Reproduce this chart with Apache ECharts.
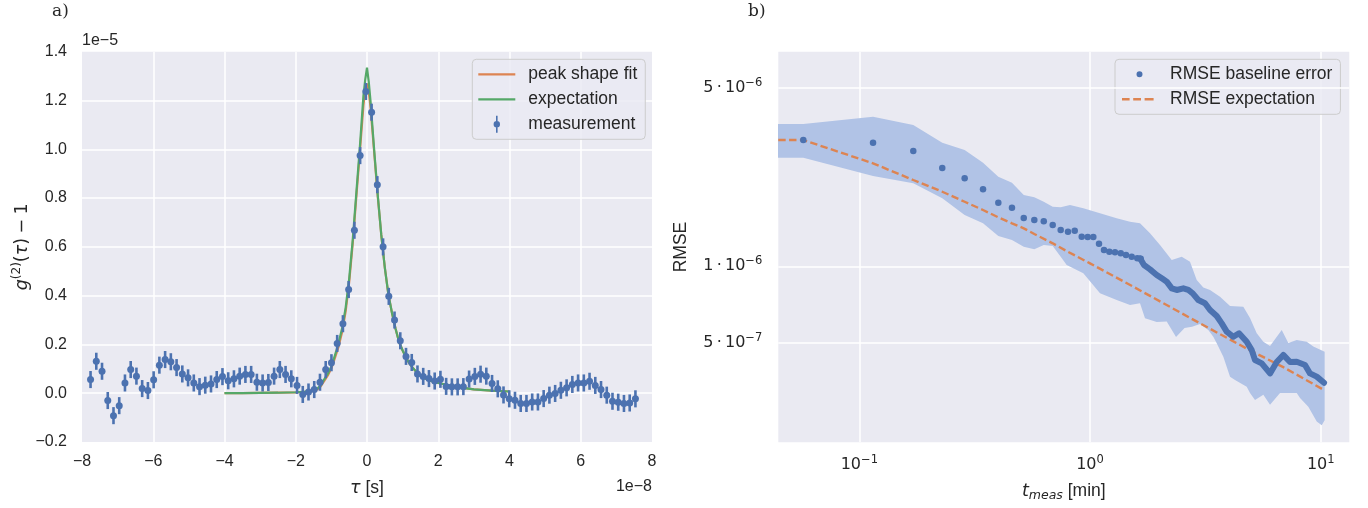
<!DOCTYPE html>
<html><head><meta charset="utf-8">
<script src="https://cdn.jsdelivr.net/npm/echarts@6/dist/echarts.min.js"></script>
<style>html,body{margin:0;padding:0;background:#fff;}#c{width:1368px;height:508px;}</style>
</head><body><div id="c"></div>
<script>
// ---------- Panel a) : tau in units of 1e-8 s, g2-1 in units of 1e-5 ----------
const tauMeas = [-7.760,-7.599,-7.438,-7.277,-7.116,-6.955,-6.794,-6.633,-6.472,-6.311,-6.150,-5.989,-5.828,-5.667,-5.506,-5.345,-5.184,-5.023,-4.862,-4.701,-4.540,-4.379,-4.218,-4.057,-3.896,-3.735,-3.574,-3.413,-3.252,-3.091,-2.930,-2.769,-2.608,-2.447,-2.286,-2.125,-1.964,-1.803,-1.642,-1.481,-1.320,-1.159,-0.998,-0.837,-0.676,-0.515,-0.354,-0.193,-0.032,0.129,0.290,0.451,0.612,0.773,0.934,1.095,1.256,1.417,1.578,1.739,1.900,2.061,2.222,2.383,2.544,2.705,2.866,3.027,3.188,3.349,3.510,3.671,3.832,3.993,4.154,4.315,4.476,4.637,4.798,4.959,5.120,5.281,5.442,5.603,5.764,5.925,6.086,6.247,6.408,6.569,6.730,6.891,7.052,7.213,7.374,7.535];
const g2Meas = [0.056,0.131,0.090,-0.030,-0.092,-0.051,0.042,0.097,0.070,0.019,0.011,0.055,0.115,0.138,0.129,0.105,0.079,0.063,0.042,0.027,0.033,0.038,0.056,0.068,0.051,0.059,0.070,0.077,0.077,0.045,0.042,0.044,0.070,0.097,0.077,0.059,0.032,-0.005,0.005,0.015,0.045,0.097,0.125,0.204,0.285,0.425,0.668,0.974,1.237,1.152,0.855,0.600,0.397,0.300,0.215,0.151,0.126,0.079,0.069,0.060,0.050,0.057,0.028,0.026,0.026,0.027,0.058,0.069,0.078,0.070,0.040,0.018,-0.007,-0.023,-0.029,-0.042,-0.042,-0.036,-0.036,-0.022,-0.008,-0.001,0.012,0.022,0.036,0.042,0.042,0.049,0.032,0.015,-0.008,-0.033,-0.037,-0.042,-0.040,-0.023];
const g2Err = 0.035;
const tauCurve = [-4.0,-3.5,-3.0,-2.5,-2.0,-1.8,-1.6,-1.5,-1.4,-1.3,-1.2,-1.1,-1.0,-0.9,-0.8,-0.7,-0.6,-0.5,-0.4,-0.3,-0.2,-0.1,-0.05,0.0,0.05,0.1,0.2,0.3,0.4,0.5,0.6,0.7,0.8,0.9,1.0,1.1,1.2,1.3,1.4,1.5,1.6,1.8,2.0,2.5,3.0,3.5,4.0];
const expCurve = [0.000,0.000,0.001,0.002,0.004,0.006,0.008,0.010,0.018,0.032,0.057,0.080,0.110,0.155,0.205,0.265,0.350,0.470,0.630,0.820,1.010,1.220,1.285,1.335,1.275,1.195,1.000,0.815,0.650,0.515,0.405,0.330,0.265,0.210,0.175,0.145,0.120,0.101,0.085,0.073,0.062,0.050,0.042,0.026,0.016,0.011,0.007];
const fitCurve = [0.000,0.000,0.001,0.002,0.003,0.005,0.007,0.009,0.015,0.028,0.050,0.073,0.102,0.145,0.190,0.250,0.335,0.455,0.615,0.805,0.990,1.180,1.240,1.270,1.235,1.170,0.990,0.810,0.650,0.515,0.405,0.330,0.265,0.210,0.175,0.145,0.120,0.101,0.085,0.073,0.062,0.050,0.042,0.026,0.016,0.011,0.007];

// ---------- Panel b) : t in minutes, RMSE in units of 1e-6 ----------
const tSparse = [0.0572,0.1147,0.1714,0.2289,0.2862,0.3438,0.4005,0.4589,0.5161,0.5736,0.6303,0.6892,0.7464,0.8027,0.8585,0.9205,0.9773,1.0335,1.094,1.150,1.213,1.283,1.359,1.432,1.516,1.603,1.659];
const rmseSparse = [3.120,3.045,2.826,2.424,2.210,2.001,1.774,1.696,1.545,1.518,1.500,1.451,1.387,1.366,1.378,1.305,1.302,1.302,1.226,1.158,1.141,1.134,1.124,1.107,1.090,1.075,1.071];
const tDense = [1.647,1.714,1.820,1.946,2.078,2.150,2.261,2.376,2.537,2.668,2.787,2.947,3.151,3.313,3.541,3.723,3.913,4.181,4.425,4.778,5.022,5.190,5.550,6.030,6.447,6.884,7.362,7.870,8.551,8.985,9.609,10.335];
const rmseDense = [1.075,1.012,0.973,0.925,0.889,0.871,0.820,0.808,0.820,0.808,0.784,0.738,0.717,0.675,0.639,0.598,0.555,0.530,0.547,0.507,0.470,0.430,0.417,0.381,0.422,0.450,0.422,0.423,0.411,0.381,0.370,0.350];
const tExp = [0.04,0.0572,0.1147,0.1714,0.2289,0.2862,0.3438,0.4005,0.4589,0.5161,0.5736,0.6892,0.8004,1.0,1.541,2.998,4.937,6.884,10.335];
const rmseExp = [3.120,3.120,2.529,2.176,1.958,1.789,1.661,1.555,1.473,1.408,1.338,1.230,1.141,1.027,0.832,0.598,0.469,0.403,0.328];
const tBandHi = [0.04,0.0572,0.1147,0.1714,0.2289,0.2862,0.3438,0.4005,0.4589,0.5161,0.5736,0.6303,0.6892,0.7464,0.8190,0.9354,1.105,1.305,1.491,1.647,1.820,2.011,2.261,2.497,2.713,2.901,3.098,3.313,3.660,4.045,4.618,4.937,5.280,5.640,6.030,6.776,7.237,7.870,8.697,9.288,10.40];
const bandHi = [3.603,3.603,3.848,3.570,3.045,2.851,2.543,2.241,2.124,1.901,1.862,1.789,1.711,1.701,1.737,1.686,1.612,1.541,1.494,1.473,1.346,1.211,1.058,1.090,1.042,0.884,0.826,0.808,0.760,0.699,0.695,0.628,0.547,0.507,0.488,0.563,0.501,0.515,0.507,0.485,0.463];
const tBandLo = [0.04,0.0572,0.1147,0.1714,0.2289,0.2862,0.3438,0.4005,0.4589,0.5161,0.5736,0.6303,0.6892,0.7464,0.7924,0.9354,1.105,1.305,1.491,1.647,1.731,1.946,2.150,2.360,2.569,2.768,2.998,3.256,3.423,3.541,3.783,4.045,4.251,4.778,4.937,5.190,5.640,6.030,6.662,7.362,7.870,8.134,8.836,9.609,10.10,10.40];
const bandLo = [2.660,2.660,2.256,2.112,1.845,1.587,1.473,1.314,1.267,1.193,1.166,1.211,1.201,1.090,1.012,0.939,0.784,0.738,0.706,0.717,0.626,0.605,0.608,0.529,0.574,0.580,0.595,0.563,0.530,0.500,0.443,0.370,0.359,0.338,0.319,0.300,0.314,0.287,0.319,0.319,0.319,0.305,0.282,0.247,0.239,0.250];
const yTickValsB = [0.5, 1, 5];
const yTickMantB = ['5', '1', '5'];
const yTickExpB = ['\u22127', '\u22126', '\u22126'];

// ---------- styling ----------
const FONT = "'Liberation Sans', Arial, sans-serif";
const MATH = "'DejaVu Sans', sans-serif";
const INK = '#262626';
const BLUE = '#4c72b0', ORANGE = '#dd8452', GREEN = '#55a868';
const BG = '#eaeaf2', BAND = '#b1c3e6';
const minus = s => String(s).replace(/-/g, '\u2212');
const ERRBAR_ICON = 'path://M0,0L0.01,0M37,17L36.99,17M17.7,0H19.3V17H17.7ZM15.3,8.5A3.2,3.2,0,1,1,21.7,8.5A3.2,3.2,0,1,1,15.3,8.5Z';
const LINE_ICON = 'path://M0,0L0.01,0M37,17L36.99,17M0,7.4H37V9.6H0Z';
const DOT_ICON = 'path://M0,0L0.01,0M35,17L34.99,17M14.5,8.5A3,3,0,1,1,20.5,8.5A3,3,0,1,1,14.5,8.5Z';
const DASH_ICON = 'path://M0,0L0.01,0M35,17L34.99,17M0,7.3H7.6V9.7H0ZM11.2,7.3H19V9.7H11.2ZM22.6,7.3H31.6V9.7H22.6Z';
const supRich = {
  b: {fontFamily: MATH, fontSize: 16, lineHeight: 22, color: INK},
  s: {fontFamily: MATH, fontSize: 11.5, lineHeight: 12, verticalAlign: 'top', color: INK}
};
const legendCommon = {
  orient: 'vertical', itemHeight: 17, itemGap: 7, selectedMode: false,
  backgroundColor: 'rgba(234,234,242,0.8)', borderColor: '#cccccc', borderWidth: 1, borderRadius: 4,
  textStyle: {fontSize: 17.5, color: INK, fontFamily: FONT, lineHeight: 18, padding: [0, 0, 0, 8]}
};

const chart = echarts.init(document.getElementById('c'));
chart.setOption({
  animation: false,
  textStyle: {fontFamily: FONT, color: INK},
  grid: [
    {left: 82, top: 51.7, width: 570, height: 390.3, show: true, backgroundColor: BG, borderWidth: 0, outerBoundsMode: 'none'},
    {left: 778.3, top: 51.7, width: 571, height: 390.6, show: true, backgroundColor: BG, borderWidth: 0, outerBoundsMode: 'none'}
  ],
  xAxis: [
    {gridIndex: 0, type: 'value', min: -8, max: 8, interval: 2,
     axisLine: {show: false}, axisTick: {show: false},
     splitLine: {show: true, showMinLine: false, showMaxLine: false, lineStyle: {color: '#fff', width: 1.5}},
     axisLabel: {fontSize: 16, color: INK, fontFamily: FONT, margin: 12, formatter: v => minus(v)},
     name: '{i|\u03c4} [s]', nameLocation: 'middle', nameGap: 37,
     nameTextStyle: {fontSize: 17.5, color: INK, fontFamily: FONT,
       rich: {i: {fontFamily: MATH, fontStyle: 'italic', fontSize: 17.5, color: INK}}}},
    {gridIndex: 1, type: 'log', logBase: 10, min: 0.04456, max: 13.3,
     axisLine: {show: false}, axisTick: {show: false}, minorTick: {show: false}, minorSplitLine: {show: false},
     splitLine: {show: true, showMinLine: false, showMaxLine: false, lineStyle: {color: '#fff', width: 1.5}},
     axisLabel: {showMinLabel: false, showMaxLabel: false, margin: 12, rich: supRich,
       formatter: function (v) {
         const e = Math.log10(v), r = Math.round(e);
         if (Math.abs(e - r) > 1e-6) return '';
         return '{b|10}{s|' + minus(r) + '}';
       }},
     name: '{i|t}{sub|meas} [min]', nameLocation: 'middle', nameGap: 38,
     nameTextStyle: {fontSize: 17.5, color: INK, fontFamily: FONT,
       rich: {i: {fontFamily: MATH, fontStyle: 'italic', fontSize: 17.5, lineHeight: 22, color: INK},
              sub: {fontFamily: MATH, fontStyle: 'italic', fontSize: 12.5, lineHeight: 13, verticalAlign: 'bottom', color: INK}}}}
  ],
  yAxis: [
    {gridIndex: 0, type: 'value', min: -0.2, max: 1.4, interval: 0.2,
     axisLine: {show: false}, axisTick: {show: false},
     splitLine: {show: true, showMinLine: false, showMaxLine: false, lineStyle: {color: '#fff', width: 1.5}},
     axisLabel: {fontSize: 16, color: INK, fontFamily: FONT, margin: 15, formatter: v => minus(v.toFixed(1))},
     name: '{i|g}{s|(2)}{n|(}{i|\u03c4}{n|)\u2005\u2212\u20051}', nameLocation: 'middle', nameGap: 42,
     nameTextStyle: {color: INK, rich: {
       i: {fontFamily: MATH, fontStyle: 'italic', fontSize: 17.5, lineHeight: 24, color: INK},
       n: {fontFamily: MATH, fontSize: 17.5, lineHeight: 24, color: INK},
       s: {fontFamily: MATH, fontSize: 12, lineHeight: 13, verticalAlign: 'top', color: INK}}}},
    {gridIndex: 1, type: 'log', logBase: 10, min: 0.2048, max: 6.914,
     axisLine: {show: false}, axisTick: {show: false}, axisLabel: {show: false},
     splitLine: {show: false}, minorTick: {show: false}, minorSplitLine: {show: false},
     name: 'RMSE', nameLocation: 'middle', nameGap: 88,
     nameTextStyle: {fontSize: 17.5, color: INK, fontFamily: FONT}}
  ],
  legend: [
    Object.assign({}, legendCommon, {left: 472.3, top: 59.3, itemWidth: 37, padding: [6, 8, 6, 6],
      data: [{name: 'peak shape fit', icon: LINE_ICON}, {name: 'expectation', icon: LINE_ICON},
             {name: 'measurement', icon: ERRBAR_ICON}]}),
    Object.assign({}, legendCommon, {left: 1115, top: 59.3, itemWidth: 35, padding: [6, 8, 6, 7],
      data: [{name: 'RMSE baseline error', icon: DOT_ICON}, {name: 'RMSE expectation', icon: DASH_ICON}]})
  ],
  graphic: [
    {type: 'text', left: 82, top: 33, silent: true, style: {text: '1e\u22125', font: '16px ' + FONT, fill: INK}},
    {type: 'text', right: 716, top: 479, silent: true, style: {text: '1e\u22128', font: '16px ' + FONT, fill: INK}},
    {type: 'text', left: 52, top: 3, silent: true, style: {text: 'a)', font: '17px "DejaVu Serif", serif', fill: INK}},
    {type: 'text', left: 748, top: 3, silent: true, style: {text: 'b)', font: '17px "DejaVu Serif", serif', fill: INK}}
  ],
  series: [
    {name: 'peak shape fit', type: 'line', xAxisIndex: 0, yAxisIndex: 0, z: 3, silent: true,
     data: tauCurve.map((t, i) => [t, fitCurve[i]]), symbol: 'none',
     lineStyle: {color: ORANGE, width: 2.2}, itemStyle: {color: ORANGE}},
    {name: 'expectation', type: 'line', xAxisIndex: 0, yAxisIndex: 0, z: 4, silent: true,
     data: tauCurve.map((t, i) => [t, expCurve[i]]), symbol: 'none',
     lineStyle: {color: GREEN, width: 2.2}, itemStyle: {color: GREEN}},
    {name: 'measurement error', type: 'custom', xAxisIndex: 0, yAxisIndex: 0, z: 5, silent: true,
     data: tauMeas.map((t, i) => [t, g2Meas[i], g2Err]), encode: {x: 0, y: 1},
     renderItem: function (params, api) {
       const x = api.value(0), y = api.value(1), e = api.value(2);
       const a = api.coord([x, y - e]), b = api.coord([x, y + e]);
       return {type: 'line', shape: {x1: a[0], y1: a[1], x2: b[0], y2: b[1]},
               style: {stroke: BLUE, lineWidth: 2.6}};
     }},
    {name: 'measurement', type: 'scatter', xAxisIndex: 0, yAxisIndex: 0, z: 6, silent: true,
     data: tauMeas.map((t, i) => [t, g2Meas[i]]), symbolSize: 7, itemStyle: {color: BLUE, opacity: 1}},

    {name: 'grid b', type: 'line', xAxisIndex: 1, yAxisIndex: 1, z: 1, data: [], silent: true,
     markLine: {silent: true, symbol: ['none', 'none'], animation: false,
       lineStyle: {color: '#fff', width: 1.5, type: 'solid'}, emphasis: {disabled: true},
       label: {show: true, position: 'start', distance: 16, rich: supRich,
         formatter: p => '{b|' + yTickMantB[p.dataIndex] + '\u2009\u00b7\u200910}{s|' + yTickExpB[p.dataIndex] + '}'},
       data: yTickValsB.map(v => ({yAxis: v}))}},
    {name: 'band', type: 'custom', xAxisIndex: 1, yAxisIndex: 1, z: 6, clip: true, silent: true,
     data: [[tBandHi[0], bandHi[0]]], encode: {x: 0, y: 1},
     renderItem: function (params, api) {
       if (params.dataIndex !== 0) return null;
       const pts = [];
       for (let i = 0; i < tBandHi.length; i++) pts.push(api.coord([tBandHi[i], bandHi[i]]));
       for (let i = tBandLo.length - 1; i >= 0; i--) pts.push(api.coord([tBandLo[i], bandLo[i]]));
       return {type: 'polygon', shape: {points: pts}, style: {fill: BAND}};
     }},
    {name: 'RMSE expectation', type: 'line', xAxisIndex: 1, yAxisIndex: 1, z: 8, silent: true,
     data: tExp.map((t, i) => [t, rmseExp[i]]), symbol: 'none',
     lineStyle: {color: ORANGE, width: 2.4, type: [7.4, 3.4]}, itemStyle: {color: ORANGE}},
    {name: 'RMSE baseline error', type: 'scatter', xAxisIndex: 1, yAxisIndex: 1, z: 9, silent: true,
     data: tSparse.map((t, i) => [t, rmseSparse[i]]), symbolSize: 6.5, itemStyle: {color: BLUE, opacity: 1}},
    {name: 'RMSE baseline error (dense)', type: 'line', xAxisIndex: 1, yAxisIndex: 1, z: 9, silent: true,
     data: tDense.map((t, i) => [t, rmseDense[i]]), symbol: 'none',
     lineStyle: {color: BLUE, width: 6, cap: 'round', join: 'round'}, itemStyle: {color: BLUE}}
  ]
});
</script></body></html>
